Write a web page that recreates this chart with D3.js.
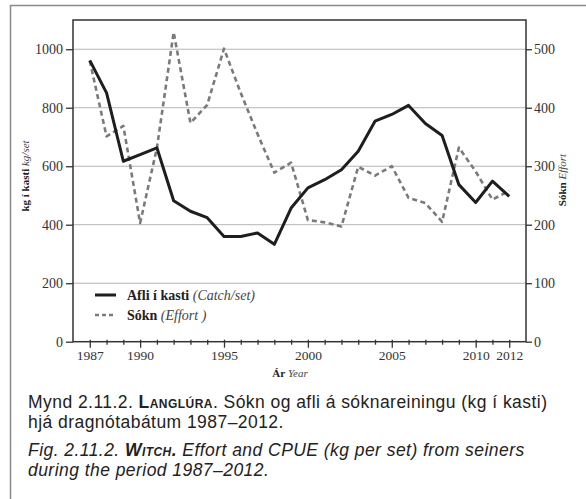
<!DOCTYPE html>
<html><head><meta charset="utf-8">
<script src="https://cdn.jsdelivr.net/npm/d3@7"></script>
<style>
body{margin:0;background:#fff;}
svg{display:block;}
.serif, .serif text{font-family:"Liberation Serif","DejaVu Serif",serif;fill:#333;}
.cap{font-family:"Liberation Sans",Arial,sans-serif;fill:#222;letter-spacing:0.45px;}
</style></head>
<body>
<svg id="c" width="586" height="499"></svg>
<script>
const years = d3.range(1987, 2013);
const catchPerSet = [962, 851, 617, 640, 663, 482, 446, 424, 360, 360, 372, 333, 457, 526, 554, 588, 651, 754, 777, 808, 746, 705, 537, 476, 549, 497];
const effort = [480, 351, 369, 203, 331, 529, 374, 405, 501, 425, 355, 289, 306, 208, 204, 197, 299, 284, 300, 246, 237, 205, 332, 291, 243, 258];
const leftTicks = [0, 200, 400, 600, 800, 1000];
const rightTicks = [0, 100, 200, 300, 400, 500];
const xLabelYears = [1987, 1990, 1995, 2000, 2005, 2010, 2012];

const svg = d3.select("#c");
const L = 73, R = 526, T = 20, B = 341.7;
const x = d3.scaleLinear().domain([1986, 2013]).range([L, R]);
const yL = d3.scaleLinear().domain([0, 1100]).range([B, T]);
const yR = d3.scaleLinear().domain([0, 550]).range([B, T]);

// outer frame
svg.append("path").attr("d", "M10.5,499 L10.5,5.5 L586,5.5")
  .attr("fill", "none").attr("stroke", "#8a8a8a").attr("stroke-width", 1.5);

// grid
svg.append("g").selectAll("line").data(leftTicks.filter(d => d > 0)).join("line")
  .attr("x1", L).attr("x2", R).attr("y1", d => yL(d)).attr("y2", d => yL(d))
  .attr("stroke", "#b5b5b5").attr("stroke-width", 1);

// plot box
svg.append("rect").attr("x", L).attr("y", T).attr("width", R - L).attr("height", B - T)
  .attr("fill", "none").attr("stroke", "#333").attr("stroke-width", 1.5);

function styleAxis(g, fs) {
  g.select(".domain").remove();
  g.selectAll("line").attr("stroke", "#333").attr("stroke-width", 1.3);
  g.selectAll("text").style("font-family", '"Liberation Serif", serif').style("font-size", fs + "px").attr("fill", "#333");
}

// left axis
const gl = svg.append("g").attr("class", "serif").attr("transform", `translate(${L},0)`)
  .call(d3.axisLeft(yL).tickValues(leftTicks).tickSize(7).tickPadding(3).tickFormat(d3.format("d")));
styleAxis(gl, 14);

// right axis
const gr = svg.append("g").attr("class", "serif").attr("transform", `translate(${R},0)`)
  .call(d3.axisRight(yR).tickValues(rightTicks).tickSize(6).tickPadding(2).tickFormat(d3.format("d")));
styleAxis(gr, 14);

// bottom axis: minor ticks each year
const gm = svg.append("g").attr("transform", `translate(0,${B})`)
  .call(d3.axisBottom(x).tickValues(years.filter(y => !xLabelYears.includes(y))).tickSize(3).tickFormat(""));
styleAxis(gm, 13);
gm.selectAll("line").attr("y1", -2);
const gb = svg.append("g").attr("class", "serif").attr("transform", `translate(0,${B})`)
  .call(d3.axisBottom(x).tickValues(xLabelYears).tickSize(6).tickPadding(3).tickFormat(d3.format("d")));
styleAxis(gb, 13.5);
gb.selectAll("line").attr("y1", -2);

// lines
const lineC = d3.line().x((d, i) => x(years[i])).y(d => yL(d));
const lineE = d3.line().x((d, i) => x(years[i])).y(d => yR(d));
svg.append("path").datum(effort).attr("d", lineE).attr("fill", "none")
  .attr("stroke", "#7a7a7a").attr("stroke-width", 2.6).attr("stroke-dasharray", "5,3.5")
  .attr("stroke-linejoin", "round");
svg.append("path").datum(catchPerSet).attr("d", lineC).attr("fill", "none")
  .attr("stroke", "#1e1e1e").attr("stroke-width", 3).attr("stroke-linejoin", "round");

// legend
const leg = [
  {b: "Afli í kasti", i: " (Catch/set)", dash: null, col: "#1e1e1e", w: 3},
  {b: "Sókn", i: " (Effort )", dash: "4,3", col: "#7a7a7a", w: 2.6}
];
const lg = svg.append("g");
leg.forEach((d, k) => {
  const yy = 295 + k * 20;
  lg.append("line").attr("x1", 95).attr("x2", 116).attr("y1", yy).attr("y2", yy)
    .attr("stroke", d.col).attr("stroke-width", d.w).attr("stroke-dasharray", d.dash);
  const t = lg.append("text").attr("class", "serif").attr("x", 127).attr("y", yy + 4.5).attr("font-size", 14);
  t.append("tspan").attr("font-weight", "bold").style("fill", "#222").text(d.b);
  t.append("tspan").attr("font-style", "italic").style("fill", "#444").text(d.i);
});

// axis titles
const tl = svg.append("text").attr("class", "serif").attr("font-size", 11)
  .attr("text-anchor", "middle").attr("transform", "translate(29,176) rotate(-90)");
tl.append("tspan").attr("font-weight", "bold").style("fill", "#222").text("kg í kasti");
tl.append("tspan").attr("font-style", "italic").style("fill", "#444").text(" kg/set");

const tr = svg.append("text").attr("class", "serif").attr("font-size", 11)
  .attr("text-anchor", "middle").attr("transform", "translate(566,180) rotate(-90)");
tr.append("tspan").attr("font-weight", "bold").style("fill", "#222").text("Sókn");
tr.append("tspan").attr("font-style", "italic").style("fill", "#444").text(" Effort");

const tx = svg.append("text").attr("class", "serif").attr("font-size", 11)
  .attr("text-anchor", "middle").attr("x", 290).attr("y", 377);
tx.append("tspan").attr("font-weight", "bold").style("fill", "#222").text("Ár");
tx.append("tspan").attr("font-style", "italic").style("fill", "#444").text("  Year");

// caption
const FS = 17.5;
const c1 = svg.append("text").attr("class", "cap").attr("x", 28).attr("y", 408).attr("font-size", FS);
c1.append("tspan").text("Mynd 2.11.2. ");
c1.append("tspan").attr("font-weight", "bold").style("font-variant", "small-caps").text("Langlúra");
c1.append("tspan").text(". Sókn og afli á sóknareiningu (kg í kasti)");
svg.append("text").attr("class", "cap").attr("x", 28).attr("y", 428).attr("font-size", FS)
  .text("hjá dragnótabátum 1987–2012.");
const c3 = svg.append("text").attr("class", "cap").attr("x", 28).attr("y", 456).attr("font-size", FS)
  .attr("font-style", "italic");
c3.append("tspan").text("Fig. 2.11.2. ");
c3.append("tspan").attr("font-weight", "bold").style("font-variant", "small-caps").text("Witch.");
c3.append("tspan").text(" Effort and CPUE (kg per set) from seiners");
svg.append("text").attr("class", "cap").attr("x", 28).attr("y", 476).attr("font-size", FS)
  .attr("font-style", "italic").text("during the period 1987–2012.");
</script>
</body></html>
